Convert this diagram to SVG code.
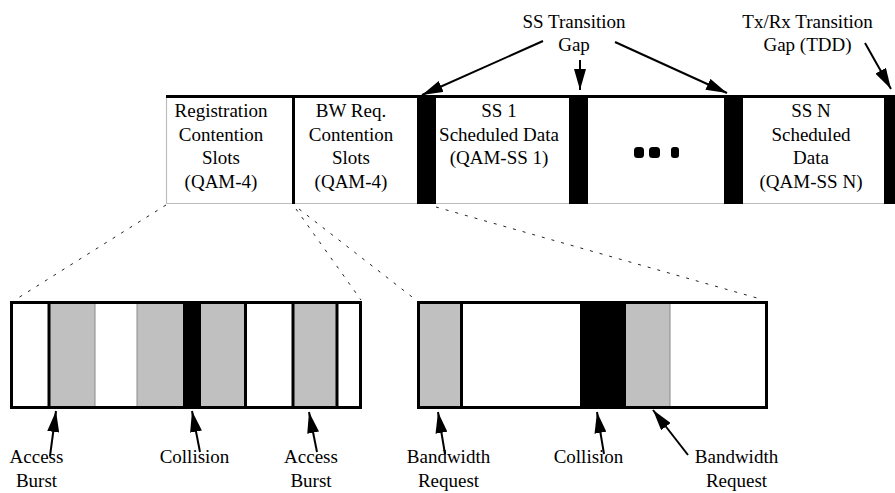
<svg xmlns="http://www.w3.org/2000/svg" width="895" height="493" viewBox="0 0 895 493">
  <defs>
    <style>
      text { font-family: "Liberation Serif", "Times New Roman", serif; font-size: 19px; fill: #000; text-anchor: middle; }
      .bar { fill: #000; }
      .grey { fill: #c0c0c0; }
      .thick { stroke: #000; stroke-width: 3; fill: none; }
      .hair { stroke: #8a8a8a; stroke-width: 1; fill: none; }
      .edge { stroke: #bdbdbd; stroke-width: 1.2; fill: none; }
      .zoom { stroke: #222; stroke-width: 1; stroke-dasharray: 3 7; fill: none; }
      .arrow { stroke: #000; stroke-width: 2; fill: none; marker-end: url(#head); }
    </style>
    <marker id="head" markerUnits="userSpaceOnUse" markerWidth="21" markerHeight="12" refX="21" refY="6" orient="auto">
      <path d="M0,0 L21,6 L0,12 Z" fill="#000"/>
    </marker>
  </defs>

  <rect width="895" height="493" fill="#fff"/>

  <!-- Uplink subframe -->
  <g id="frame">
    <line class="edge" x1="166.5" y1="97" x2="166.5" y2="204"/>
    <line class="edge" x1="166" y1="203.5" x2="895" y2="203.5"/>
    <line class="thick" x1="166" y1="96.5" x2="895" y2="96.5"/>
  </g>

  <g id="registration-slots">
    <text x="221" y="117">Registration</text>
    <text x="221" y="140.5">Contention</text>
    <text x="221" y="164">Slots</text>
    <text x="221" y="187.5">(QAM-4)</text>
  </g>

  <g id="bw-request-slots">
    <line class="thick" x1="293.5" y1="96" x2="293.5" y2="204"/>
    <text x="351" y="117">BW Req.</text>
    <text x="351" y="140.5">Contention</text>
    <text x="351" y="164">Slots</text>
    <text x="351" y="187.5">(QAM-4)</text>
  </g>

  <g id="ss-gap-1"><rect class="bar" x="417" y="95" width="19" height="109"/></g>

  <g id="ss1-data">
    <text x="499" y="117">SS 1</text>
    <text x="499" y="140.5">Scheduled Data</text>
    <text x="499" y="164">(QAM-SS 1)</text>
  </g>

  <g id="ss-gap-2"><rect class="bar" x="569" y="95" width="19" height="109"/></g>

  <g id="ellipsis">
    <rect class="bar" x="634" y="147" width="10" height="11" rx="3.5"/>
    <rect class="bar" x="649" y="147" width="11" height="11" rx="3.5"/>
    <rect class="bar" x="671" y="147" width="8" height="11" rx="3"/>
  </g>

  <g id="ss-gap-3"><rect class="bar" x="724" y="95" width="19" height="109"/></g>

  <g id="ssn-data">
    <text x="811" y="117">SS N</text>
    <text x="811" y="140.5">Scheduled</text>
    <text x="811" y="164">Data</text>
    <text x="811" y="187.5">(QAM-SS N)</text>
  </g>

  <g id="txrx-gap"><rect class="bar" x="884" y="95" width="11" height="109"/></g>

  <!-- Gap captions -->
  <g id="ss-transition-gap">
    <text x="574" y="28">SS Transition</text>
    <text x="574" y="51">Gap</text>
  </g>
  <g id="txrx-transition-gap">
    <text x="807.5" y="28">Tx/Rx Transition</text>
    <text x="807.5" y="51">Gap (TDD)</text>
  </g>

  <!-- Registration contention slots, expanded -->
  <g id="registration-detail">
    <rect class="grey" x="50" y="302" width="45" height="105"/>
    <rect class="grey" x="137" y="302" width="46" height="105"/>
    <rect class="bar" x="183" y="302" width="18" height="105"/>
    <rect class="grey" x="201" y="302" width="44" height="105"/>
    <rect class="grey" x="294" y="302" width="42" height="105"/>
    <line class="hair" x1="95" y1="302" x2="95" y2="407"/>
    <line class="hair" x1="137" y1="302" x2="137" y2="407"/>
    <line class="thick" x1="49" y1="302" x2="49" y2="407"/>
    <line class="thick" x1="245.5" y1="302" x2="245.5" y2="407"/>
    <line class="thick" x1="293" y1="302" x2="293" y2="407"/>
    <line class="thick" x1="337" y1="302" x2="337" y2="407"/>
    <rect class="thick" x="11.5" y="302.5" width="349" height="105"/>
  </g>

  <!-- Bandwidth request contention slots, expanded -->
  <g id="bw-request-detail">
    <rect class="grey" x="420" y="302" width="41" height="105"/>
    <rect class="bar" x="580" y="302" width="46" height="105"/>
    <rect class="grey" x="626" y="302" width="44" height="105"/>
    <line class="hair" x1="670" y1="302" x2="670" y2="407"/>
    <line class="thick" x1="461.5" y1="302" x2="461.5" y2="407"/>
    <rect class="thick" x="418.5" y="302.5" width="348" height="105"/>
  </g>

  <!-- Slot captions -->
  <g id="access-burst-1">
    <text x="36.5" y="463">Access</text>
    <text x="36.5" y="487">Burst</text>
  </g>
  <g id="collision-1">
    <text x="194.5" y="463">Collision</text>
  </g>
  <g id="access-burst-2">
    <text x="311" y="463">Access</text>
    <text x="311" y="487">Burst</text>
  </g>
  <g id="bandwidth-request-1">
    <text x="448.5" y="463">Bandwidth</text>
    <text x="448.5" y="487">Request</text>
  </g>
  <g id="collision-2">
    <text x="588.5" y="463">Collision</text>
  </g>
  <g id="bandwidth-request-2">
    <text x="736.5" y="463">Bandwidth</text>
    <text x="736.5" y="487">Request</text>
  </g>

  <g id="connectors">
    <!-- expansion guides -->
    <line class="zoom" x1="166" y1="205" x2="18" y2="298"/>
    <line class="zoom" x1="296" y1="209" x2="361" y2="300"/>
    <line class="zoom" x1="299" y1="209" x2="416" y2="300"/>
    <line class="zoom" x1="436" y1="207" x2="757" y2="298"/>
    <!-- gap pointers -->
    <line class="arrow" x1="543" y1="41" x2="422" y2="95"/>
    <line class="arrow" x1="580" y1="60" x2="580" y2="90"/>
    <line class="arrow" x1="615" y1="42" x2="727" y2="93"/>
    <line class="arrow" x1="865" y1="43" x2="891" y2="89"/>
    <!-- slot pointers -->
    <line class="arrow" x1="50" y1="456" x2="56" y2="411"/>
    <line class="arrow" x1="200" y1="452" x2="192" y2="411"/>
    <line class="arrow" x1="317" y1="452" x2="309" y2="412"/>
    <line class="arrow" x1="445" y1="454" x2="438" y2="412"/>
    <line class="arrow" x1="604" y1="454" x2="597" y2="412"/>
    <line class="arrow" x1="688" y1="455" x2="653" y2="410"/>
  </g>
</svg>
